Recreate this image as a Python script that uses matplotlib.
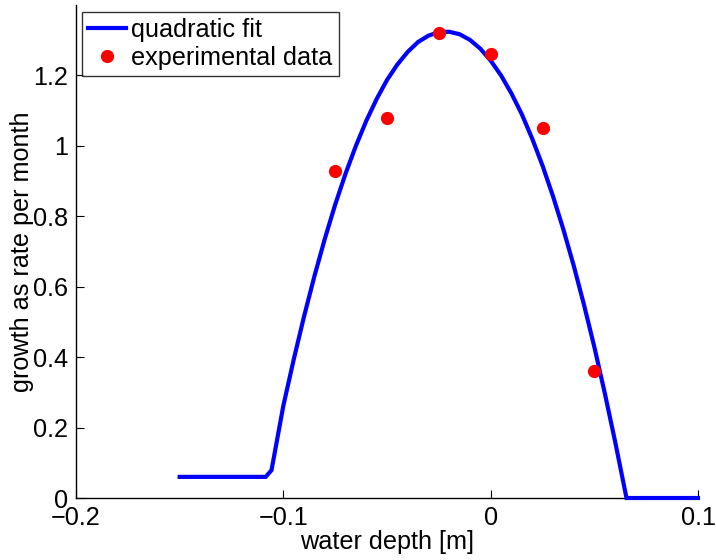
import matplotlib
matplotlib.use("Agg")
import matplotlib.pyplot as plt

# measured points
depth = [-0.075, -0.05, -0.025, 0.0, 0.025, 0.05]
growth = [0.93, 1.08, 1.32, 1.26, 1.05, 0.36]

# quadratic fit curve
fit_depth = [-0.15, -0.1085, -0.1057, -0.100, -0.095, -0.090, -0.085, -0.080,
             -0.075, -0.070, -0.065, -0.060, -0.055, -0.050, -0.045, -0.040,
             -0.035, -0.030, -0.025, -0.020, -0.015, -0.010, -0.005, 0.000,
             0.005, 0.010, 0.015, 0.020, 0.025, 0.030, 0.035, 0.040, 0.045,
             0.050, 0.055, 0.060, 0.065, 0.0655, 0.1]
fit_growth = [0.06, 0.06, 0.079, 0.262, 0.393, 0.516, 0.630, 0.736,
              0.833, 0.921, 1.000, 1.071, 1.133, 1.187, 1.231, 1.267,
              1.295, 1.313, 1.323, 1.324, 1.317, 1.301, 1.276, 1.242,
              1.200, 1.149, 1.090, 1.021, 0.944, 0.858, 0.764, 0.661, 0.549,
              0.429, 0.299, 0.161, 0.015, 0.0, 0.0]

x_ticks = [-0.2, -0.1, 0.0, 0.1]
x_tick_labels = ["\u22120.2", "\u22120.1", "0", "0.1"]
y_ticks = [0, 0.2, 0.4, 0.6, 0.8, 1.0, 1.2]
y_tick_labels = ["0", "0.2", "0.4", "0.6", "0.8", "1", "1.2"]

plt.rcParams["font.family"] = ["Liberation Sans", "DejaVu Sans"]
plt.rcParams["font.size"] = 18.2

fig = plt.figure(figsize=(7.16, 5.6), dpi=100)
ax = fig.add_axes([76 / 716, 62 / 560, 622 / 716, 493 / 560])

ax.plot(fit_depth, fit_growth, color="#0000ff", lw=3, label="quadratic fit",
        solid_joinstyle="miter", clip_on=False, zorder=3)
ax.plot(depth, growth, "o", color="#ff0000", ms=9.5, mec="none",
        label="experimental data", zorder=4)

ax.set_xlim(-0.2, 0.1)
ax.set_ylim(0, 1.4)
ax.set_xticks(x_ticks)
ax.set_xticklabels(x_tick_labels)
ax.set_yticks(y_ticks)
ax.set_yticklabels(y_tick_labels)
ax.tick_params(direction="in", length=6, width=0.8, pad=6)

ax.spines["top"].set_visible(False)
ax.spines["right"].set_visible(False)
for side in ("left", "bottom"):
    ax.spines[side].set_linewidth(1.0)

ax.set_xlabel("water depth [m]", labelpad=0)
ax.set_ylabel("growth as rate per month", labelpad=-1)

leg = ax.legend(loc="upper left", bbox_to_anchor=(6 / 622, 1 - 7 / 493),
                borderaxespad=0, frameon=True, fancybox=False,
                handlelength=1.5, handletextpad=0.2, borderpad=0.25,
                labelspacing=0.15)
leg.get_frame().set_edgecolor("black")
leg.get_frame().set_linewidth(1.0)

fig.savefig("out.png", dpi=100)
